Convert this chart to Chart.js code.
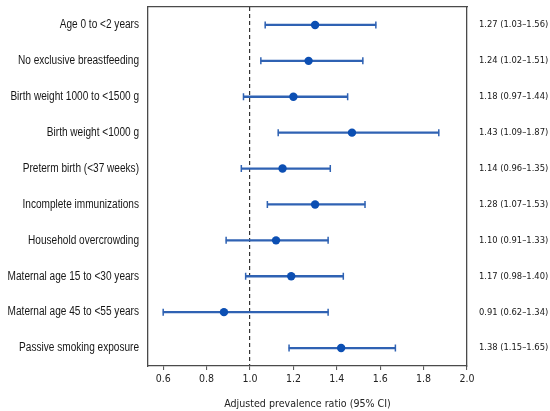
<!DOCTYPE html>
<html>
<head>
<meta charset="utf-8">
<script src="https://cdn.jsdelivr.net/npm/chart.js@4/dist/chart.umd.min.js"></script>
<style>
  html, body { margin: 0; padding: 0; background: #fff; }
  #wrap { width: 550px; height: 411px; }
</style>
</head>
<body>
<div id="wrap"><canvas id="c" width="550" height="411"></canvas></div>
<script>
const categories = [
  "Age 0 to <2 years",
  "No exclusive breastfeeding",
  "Birth weight 1000 to <1500 g",
  "Birth weight <1000 g",
  "Preterm birth (<37 weeks)",
  "Incomplete immunizations",
  "Household overcrowding",
  "Maternal age 15 to <30 years",
  "Maternal age 45 to <55 years",
  "Passive smoking exposure"
];
const estimates = [1.30, 1.27, 1.20, 1.47, 1.15, 1.30, 1.12, 1.19, 0.88, 1.42];
const lowerCI   = [1.07, 1.05, 0.97, 1.13, 0.96, 1.08, 0.89, 0.98, 0.60, 1.18];
const upperCI   = [1.58, 1.52, 1.45, 1.87, 1.37, 1.53, 1.36, 1.43, 1.36, 1.67];
const ciLabels = [
  "1.27 (1.03\u20131.56)",
  "1.24 (1.02\u20131.51)",
  "1.18 (0.97\u20131.44)",
  "1.43 (1.09\u20131.87)",
  "1.14 (0.96\u20131.35)",
  "1.28 (1.07\u20131.53)",
  "1.10 (0.91\u20131.33)",
  "1.17 (0.98\u20131.40)",
  "0.91 (0.62\u20131.34)",
  "1.38 (1.15\u20131.65)"
];
const xTickValues = [0.6, 0.8, 1.0, 1.2, 1.4, 1.6, 1.8, 2.0];
const referenceValue = 1.0;

const lineBlue = '#2f62b3';
const dotBlue = '#0c4fb3';
const axisColor = '#4a4a4a';
const condFont = "'DejaVu Sans Condensed', 'DejaVu Sans', sans-serif";

// Draws the category labels beside both y axes at the positions of the library's scales
const sideLabels = {
  id: 'sideLabels',
  afterDraw(chart) {
    const ctx = chart.ctx;
    const yl = chart.scales.y;
    const yr = chart.scales.yRight;
    ctx.save();
    ctx.fillStyle = '#161616';
    ctx.textBaseline = 'middle';
    categories.forEach((lab, i) => {
      const py = yl.getPixelForTick(i);
      ctx.save();
      ctx.translate(yl.right - 9, py);
      ctx.scale(0.84, 1);
      ctx.font = "12px 'Liberation Sans', Arial, sans-serif";
      ctx.textAlign = 'right';
      ctx.fillText(lab, 0, 0);
      ctx.restore();
    });
    ciLabels.forEach((lab, i) => {
      const py = yr.getPixelForTick(i);
      ctx.font = "9.3px " + condFont;
      ctx.textAlign = 'left';
      ctx.fillText(lab, yr.left + 12, py);
    });
    ctx.restore();
  }
};

new Chart(document.getElementById('c'), {
  type: 'bar',
  data: {
    labels: categories,
    datasets: [
      {
        type: 'bar',
        label: 'CI',
        data: lowerCI.map((l, i) => [l, upperCI[i]]),
        backgroundColor: lineBlue,
        borderWidth: 0,
        barThickness: 1.6,
        indexAxis: 'y',
        xAxisID: 'x', yAxisID: 'y',
        order: 3
      },
      {
        type: 'line',
        label: 'lowCap',
        data: lowerCI.map((v, i) => ({ x: v, y: categories[i] })),
        showLine: false,
        pointStyle: 'line',
        rotation: 90,
        pointRadius: 3.5,
        pointBorderWidth: 1.5,
        pointBorderColor: lineBlue,
        indexAxis: 'y',
        xAxisID: 'x', yAxisID: 'y',
        order: 2
      },
      {
        type: 'line',
        label: 'highCap',
        data: upperCI.map((v, i) => ({ x: v, y: categories[i] })),
        showLine: false,
        pointStyle: 'line',
        rotation: 90,
        pointRadius: 3.5,
        pointBorderWidth: 1.5,
        pointBorderColor: lineBlue,
        indexAxis: 'y',
        xAxisID: 'x', yAxisID: 'y',
        order: 2
      },
      {
        type: 'line',
        label: 'estimate',
        data: estimates.map((v, i) => ({ x: v, y: categories[i] })),
        showLine: false,
        pointStyle: 'circle',
        pointRadius: 4.2,
        pointBorderWidth: 0,
        pointBackgroundColor: dotBlue,
        indexAxis: 'y',
        xAxisID: 'x', yAxisID: 'y',
        order: 1
      }
    ]
  },
  options: {
    indexAxis: 'y',
    responsive: false,
    animation: false,
    devicePixelRatio: 1,
    layout: { padding: { left: 10, right: 0, top: 7, bottom: 0 } },
    plugins: { legend: { display: false }, tooltip: { enabled: false } },
    scales: {
      x: {
        type: 'linear',
        position: 'bottom',
        min: 0.53,
        max: 2.0,
        afterBuildTicks: s => { s.ticks = xTickValues.map(v => ({ value: v })); },
        afterFit: s => { s.height = 45; },
        ticks: {
          color: '#222',
          font: { family: condFont, size: 10.5 },
          padding: 3,
          callback: v => Number(v).toFixed(1)
        },
        grid: {
          display: true,
          drawOnChartArea: true,
          drawTicks: true,
          tickLength: 4,
          color: c => (c.tick && Math.abs(c.tick.value - referenceValue) < 1e-9) ? '#333' : 'rgba(0,0,0,0)',
          tickColor: axisColor,
          tickBorderDash: [],
          lineWidth: 1.2,
          tickWidth: 1
        },
        border: { display: true, color: axisColor, width: 1.3, dash: [4, 3] },
        title: {
          display: true,
          text: 'Adjusted prevalence ratio (95% CI)',
          color: '#222',
          font: { family: condFont, size: 10.6 },
          padding: { top: 3, bottom: 0 }
        }
      },
      xTop: {
        type: 'linear',
        position: 'top',
        min: 0.53,
        max: 2.0,
        afterFit: s => { s.height = 0; },
        ticks: { display: false },
        grid: { display: false, drawTicks: false },
        border: { display: true, color: axisColor, width: 1.3 }
      },
      y: {
        type: 'category',
        position: 'left',
        offset: true,
        afterFit: s => { s.width = 138; },
        ticks: { display: false },
        grid: { display: false, drawTicks: false },
        border: { display: true, color: axisColor, width: 1.3 }
      },
      yRight: {
        type: 'category',
        position: 'right',
        labels: ciLabels,
        offset: true,
        afterFit: s => { s.width = 83; },
        ticks: { display: false },
        grid: { display: false, drawTicks: false },
        border: { display: true, color: axisColor, width: 1.3 }
      }
    }
  },
  plugins: [sideLabels]
});
</script>
</body>
</html>
